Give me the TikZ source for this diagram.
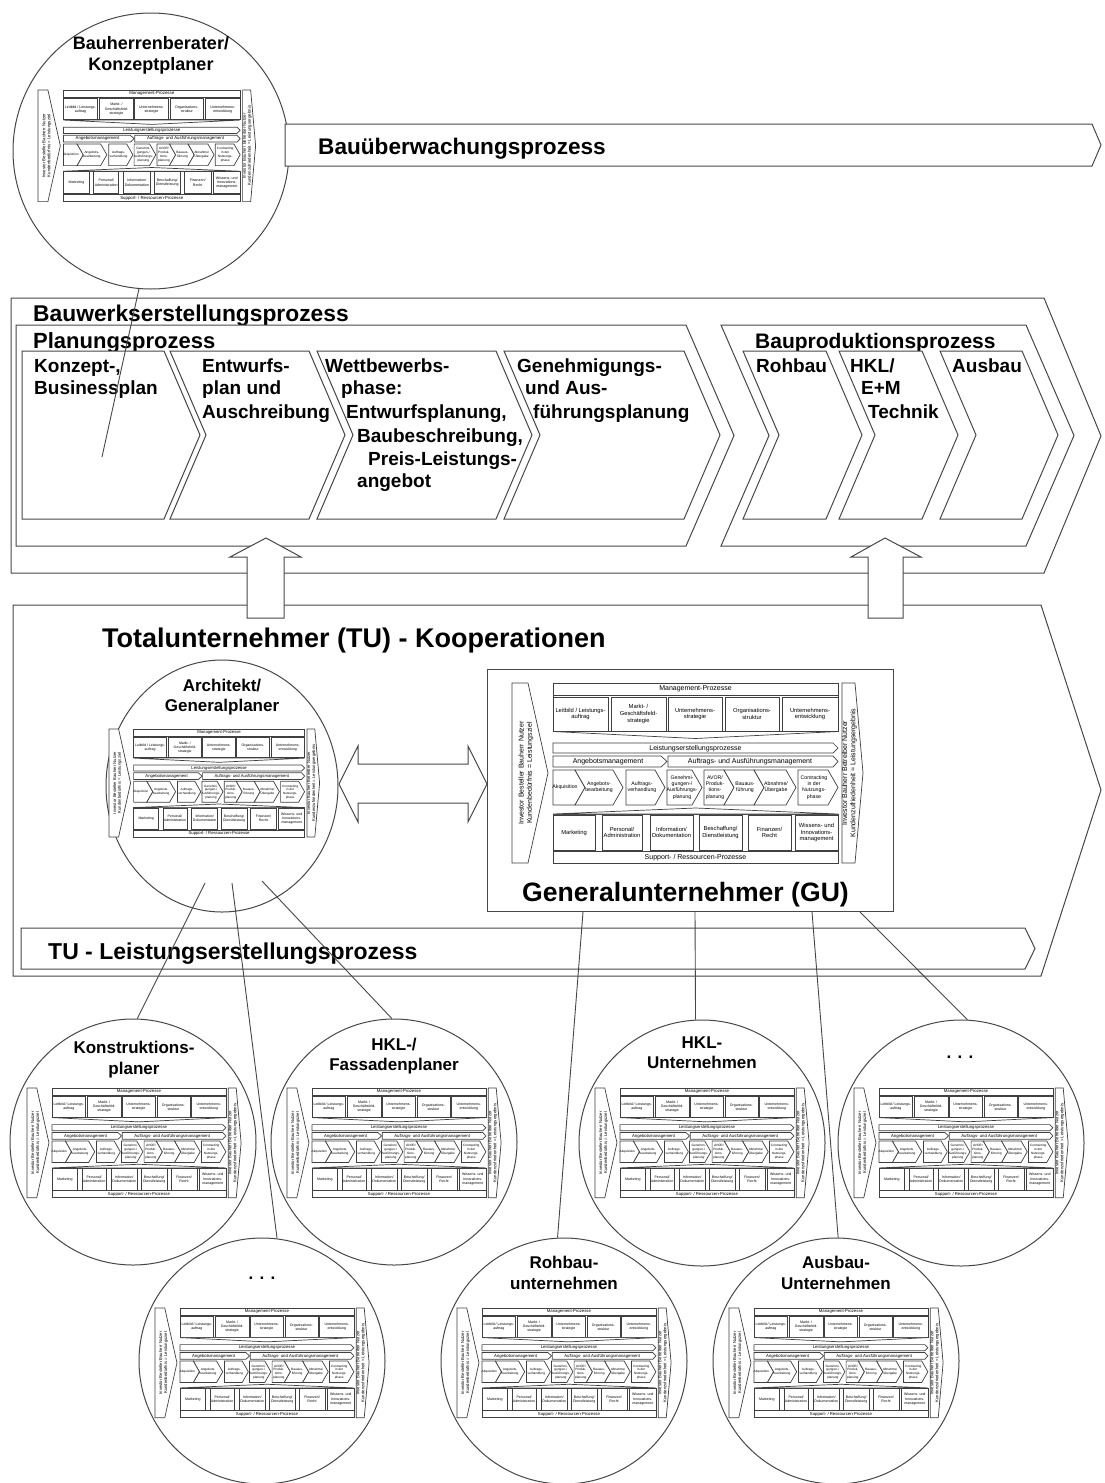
\documentclass[tikz,border=0pt]{standalone}
\usepackage{fontspec}
\setmainfont{Liberation Sans}
\usetikzlibrary{shapes.geometric}

\tikzset{
  ln/.style={draw=black!72, line width=1pt},
  shp/.style={ln, fill=white, line join=miter},
  hd/.style={font=\fontsize{22}{26}\selectfont\bfseries, anchor=base west, inner sep=0pt},
  st/.style={font=\fontsize{19}{23}\selectfont\bfseries, anchor=base west, inner sep=0pt},
  ct/.style={font=\fontsize{17}{20}\selectfont\bfseries, anchor=base, inner sep=0pt},
  orb/.style={circle, ln, fill=white, minimum size=246pt, inner sep=0pt},
  conn/.style={draw=black!72, line width=0.9pt},
  % generic process model
  mfr/.style={draw=black!75, line width=0.7pt, fill=white, line join=miter},
  mbar/.style={font=\fontsize{7}{8}\selectfont, inner sep=0pt},
  mbox/.style={font=\fontsize{5.8}{6.8}\selectfont, align=center, inner sep=0pt},
  mchev/.style={font=\fontsize{5.2}{6.1}\selectfont, align=center, inner sep=0pt},
  mrot/.style={font=\fontsize{7}{8.2}\selectfont, align=center, inner sep=0pt, rotate=90},
}

% chevron in the value chain row: #1 left, #2 right shoulder, #3 notched (1) or flat (0)
\newcommand{\mchevron}[3]{%
  \ifnum#3=1
    \draw[mfr] (#1,87) -- (#2,87) -- (#2+10,104.5) -- (#2,122) -- (#1,122) -- (#1+10,104.5) -- cycle;
  \else
    \draw[mfr] (#1,87) -- (#2,87) -- (#2+10,104.5) -- (#2,122) -- (#1,122) -- cycle;
  \fi}

% process model of a company: #1 position, #2 scale, #3 name prefix
\newcommand{\procmodel}[3]{%
\begin{scope}[shift={#1}, scale=#2, transform shape, name prefix=#3-]
  % customer side
  \draw[mfr] (0,0) -- (16,0) -- (36,90) -- (16,180) -- (0,180) -- cycle;
  \draw[mfr] (330,0) -- (343,0) -- (351,90) -- (343,180) -- (330,180) -- cycle;
  \node[mrot] (kin) at (14,90) {Investor Besteller Bauherr Nutzer\\Kundenbedürfnis = Leistungsziel};
  \node[mrot] (kout) at (337.5,90) {Investor Bauherr Betreiber Nutzer\\Kundenzufriedenheit = Leistungsergebnis};
  % management processes
  \draw[mfr] (41,0) rectangle (326,48);
  \draw[mfr] (41,0) rectangle (326,12);
  \node[mbar] (mp) at (183.5,6.3) {Management-Prozesse};
  \draw[mfr] (41,14) rectangle (96,48);
  \draw[mfr] (99,14) rectangle (154,48);
  \draw[mfr] (156,14) rectangle (210,48);
  \draw[mfr] (213,14) rectangle (267,48);
  \draw[mfr] (270,14) rectangle (326,48);
  \node[mbox] (m1) at (68.5,31) {Leitbild / Leistungs-\\auftrag};
  \node[mbox] (m2) at (126.5,31) {Markt- /\\Geschäftsfeld-\\strategie};
  \node[mbox] (m3) at (183,31) {Unternehmens-\\strategie};
  \node[mbox] (m4) at (240,31) {Organisations-\\struktur};
  \node[mbox] (m5) at (298,31) {Unternehmens-\\entwicklung};
  \draw[mfr] (41,48.5) -- (183.5,55.5) -- (326,48.5) -- cycle;
  % value chain
  \draw[mfr] (41,60) -- (321,60) -- (326,65) -- (321,70) -- (41,70) -- cycle;
  \node[mbar] (lp) at (183.5,65.3) {Leistungserstellungsprozesse};
  \draw[mfr] (41,73) -- (149,73) -- (155,78.5) -- (149,84) -- (41,84) -- cycle;
  \draw[mfr] (156,73) -- (321,73) -- (326,78.5) -- (321,84) -- (156,84) -- cycle;
  \node[mbar] (am) at (96,78.8) {Angebotsmanagement};
  \node[mbar] (aa) at (238,78.8) {Auftrags- und Ausführungsmanagement};
  \mchevron{41}{63}{0}
  \mchevron{63}{101}{1}
  \mchevron{114}{143}{0}
  \mchevron{155}{180}{0}
  \mchevron{192}{212}{0}
  \mchevron{212}{242}{1}
  \mchevron{242}{274}{1}
  \mchevron{286}{316}{0}
  \node[mchev] (c1) at (53,104.5) {Akquisition};
  \node[mchev] (c2) at (87,104.5) {Angebots-\\bearbeitung};
  \node[mchev] (c3) at (130,104.5) {Auftrags-\\verhandlung};
  \node[mchev] (c4) at (170,104.5) {Genehmi-\\gungen-/\\Ausführungs-\\planung};
  \node[mchev] (c5) at (203,104.5) {AVOR/\\Produk-\\tions-\\planung};
  \node[mchev] (c6) at (233,104.5) {Bauaus-\\führung};
  \node[mchev] (c7) at (264,104.5) {Abnahme/\\Übergabe};
  \node[mchev] (c8) at (302,104.5) {Contracting\\in der\\Nutzungs-\\phase};
  % support processes
  \draw[mfr] (41,131) rectangle (326,180);
  \draw[mfr] (41,131) -- (183.5,125) -- (326,131) -- cycle;
  \draw[mfr] (41,132) rectangle (83,167);
  \draw[mfr] (90,132) rectangle (130,167);
  \draw[mfr] (138,132) rectangle (181,167);
  \draw[mfr] (187,132) rectangle (230,167);
  \draw[mfr] (236,132) rectangle (279,167);
  \draw[mfr] (283,132) rectangle (326,167);
  \node[mbox] (s1) at (62,149.5) {Marketing};
  \node[mbox] (s2) at (110,149.5) {Personal/\\Administration};
  \node[mbox] (s3) at (159.5,149.5) {Information/\\Dokumentation};
  \node[mbox] (s4) at (208.5,149.5) {Beschaffung/\\Dienstleistung};
  \node[mbox] (s5) at (257.5,149.5) {Finanzen/\\Recht};
  \node[mbox] (s6) at (304.5,149.5) {Wissens- und\\Innovations-\\management};
  \draw[mfr] (41,168.5) rectangle (326,180);
  \node[mbar] (sp) at (183.5,174.5) {Support- / Ressourcen-Prozesse};
\end{scope}}

\begin{document}
\begin{tikzpicture}[x=1pt, y=-1pt]
\useasboundingbox (0,0) rectangle (1104,1483);

% ---------- Bauwerkserstellungsprozess ----------
\draw[shp] (11,298) -- (1044,298) -- (1101,436) -- (1044,573) -- (11,573) -- cycle;
\node[hd, font=\fontsize{22.8}{26}\selectfont\bfseries] (bwe) at (33,321) {Bauwerkserstellungsprozess};
\draw[shp] (16,325) -- (686,325) -- (734,435.5) -- (686,546) -- (16,546) -- cycle;
\node[hd] (plp) at (33,348) {Planungsprozess};
\draw[shp] (22,351) -- (164,351) -- (200,435) -- (164,519) -- (22,519) -- cycle;
\draw[shp] (170,351) -- (309,351) -- (345,435) -- (309,519) -- (170,519) -- (206,435) -- cycle;
\draw[shp] (317,351) -- (496,351) -- (532,435) -- (496,519) -- (317,519) -- (353,435) -- cycle;
\draw[shp] (504,351) -- (684,351) -- (720,435) -- (684,519) -- (504,519) -- (540,435) -- cycle;
\node[st] (k1) at (34,372) {Konzept-,};
\node[st] (k2) at (34,394) {Businessplan};
\node[st] (e1) at (202,372) {Entwurfs-};
\node[st] (e2) at (202,394) {plan und};
\node[st] (e3) at (202,418) {Auschreibung};
\node[st] (w1) at (325,372) {Wettbewerbs-};
\node[st] (w2) at (341,394) {phase:};
\node[st] (w3) at (346,418) {Entwurfsplanung,};
\node[st] (w4) at (357,442) {Baubeschreibung,};
\node[st] (w5) at (368,465) {Preis-Leistungs-};
\node[st] (w6) at (357,487) {angebot};
\node[st] (g1) at (517,372) {Genehmigungs-};
\node[st] (g2) at (525,394) {und Aus-};
\node[st] (g3) at (533,418) {führungsplanung};

\draw[shp] (721,325) -- (1026,325) -- (1074,435.5) -- (1026,546) -- (721,546) -- (769,435.5) -- cycle;
\node[hd, font=\fontsize{21}{25}\selectfont\bfseries] (bpp) at (755,348) {Bauproduktionsprozess};
\draw[shp] (743,351) -- (826,351) -- (862,435) -- (826,519) -- (743,519) -- (779,435) -- cycle;
\draw[shp] (839,351) -- (922,351) -- (958,435) -- (922,519) -- (839,519) -- (875,435) -- cycle;
\draw[shp] (940,351) -- (1022,351) -- (1058,435) -- (1022,519) -- (940,519) -- (976,435) -- cycle;
\node[st] (rb) at (756,372) {Rohbau};
\node[st] (h1) at (850,372) {HKL/};
\node[st] (h2) at (861,394) {E+M};
\node[st] (h3) at (868,418) {Technik};
\node[st] (ab) at (952,372) {Ausbau};

% ---------- Totalunternehmer ----------
\draw[shp] (13,605) -- (1041,605) -- (1101,790) -- (1041,976) -- (13,976) -- cycle;
\node[hd, font=\fontsize{27}{31}\selectfont\bfseries] (tu) at (102,647) {Totalunternehmer (TU) - Kooperationen};

% upward block arrows
\draw[shp] (266,538) -- (301,557) -- (284,557) -- (284,618) -- (247,618) -- (247,557) -- (230,557) -- cycle;
\draw[shp] (885,538) -- (921,557) -- (903,557) -- (903,618) -- (868,618) -- (868,557) -- (851,557) -- cycle;

% architect / general planner
\node[ellipse, ln, fill=white, minimum width=232pt, minimum height=252pt, inner sep=0pt] (arch) at (222,786) {};
\node[ct] (arch1) at (222,691) {Architekt/};
\node[ct] (arch2) at (222,711) {Generalplaner};
\procmodel{(109,729)}{0.6}{am}

% double arrow
\draw[shp] (339,784) -- (358,746) -- (358,764) -- (468,764) -- (468,746) -- (487,784)
  -- (468,822) -- (468,803) -- (358,803) -- (358,822) -- cycle;

% general contractor
\node[ln, fill=white, minimum width=406pt, minimum height=242pt, anchor=north west, inner sep=0pt] (gu) at (487,669) {};
\procmodel{(512,683)}{1}{gm}
\node[hd, font=\fontsize{26.6}{30}\selectfont\bfseries] (gut) at (522,901) {Generalunternehmer (GU)};

% TU value chain
\draw[shp] (21,928) -- (1025,928) -- (1035,948.5) -- (1025,969) -- (21,969) -- cycle;
\node[hd, font=\fontsize{23}{27}\selectfont\bfseries] (tul) at (48,959) {TU - Leistungserstellungsprozess};

% ---------- client advisor ----------
\node[circle, ln, fill=white, minimum size=276pt, inner sep=0pt] (bhb) at (151,151) {};
\node[ct, font=\fontsize{18}{21}\selectfont\bfseries] (bhb1) at (151,49) {Bauherrenberater/};
\node[ct, font=\fontsize{18}{21}\selectfont\bfseries] (bhb2) at (151,70) {Konzeptplaner};
\procmodel{(38,90)}{0.62}{bm}
\draw[shp] (285,124) -- (1092,124) -- (1101,145) -- (1092,166) -- (285,166) -- cycle;
\node[hd, font=\fontsize{22.6}{26}\selectfont\bfseries] (buw) at (318,154) {Bauüberwachungsprozess};

% ---------- partner companies ----------
\node[orb] (konstr) at (133,1142) {};
\node[ct] (konstr1) at (134,1053) {Konstruktions-};
\node[ct] (konstr2) at (134,1074) {planer};
\procmodel{(27,1088)}{0.61}{km}

\node[orb] (hklf) at (394,1142) {};
\node[ct] (hklf1) at (394,1050) {HKL-/};
\node[ct] (hklf2) at (394,1070) {Fassadenplaner};
\procmodel{(287,1088)}{0.61}{fm}

\node[orb] (hklu) at (702,1143) {};
\node[ct] (hklu1) at (702,1048) {HKL-};
\node[ct] (hklu2) at (702,1068) {Unternehmen};
\procmodel{(595,1088)}{0.61}{um}

\node[orb] (etcA) at (961,1143) {};
\node[ct] (etcA1) at (960,1058) {. . .};
\procmodel{(854,1088)}{0.61}{em}

\node[orb] (etcB) at (262,1361) {};
\node[ct] (etcB1) at (262,1279) {. . .};
\procmodel{(155,1308)}{0.61}{dm}

\node[orb] (rohb) at (564,1361) {};
\node[ct] (rohb1) at (564,1268) {Rohbau-};
\node[ct] (rohb2) at (564,1289) {unternehmen};
\procmodel{(457,1308)}{0.61}{rm}

\node[orb] (ausb) at (836,1361) {};
\node[ct] (ausb1) at (836,1268) {Ausbau-};
\node[ct] (ausb2) at (836,1289) {Unternehmen};
\procmodel{(729,1308)}{0.61}{xm}

% ---------- connectors ----------
\coordinate (bhbend) at (102,457);
\coordinate (archL) at (205,883);
\coordinate (archM) at (232,883);
\coordinate (archR) at (262,881);
\draw[conn] (bhb.265) -- (bhbend);
\draw[conn] (archL) -- (konstr.88);
\draw[conn] (archM) -- (etcB.83);
\draw[conn] (archR) -- (hklf.91);
\draw[conn] ([xshift=96pt]gu.south west) -- (rohb.93);
\draw[conn] ([xshift=208pt]gu.south west) -- (hklu.93);
\draw[conn] ([xshift=325pt]gu.south west) -- (ausb.89);
\draw[conn] ([xshift=373pt]gu.south west) -- (etcA.87);
\end{tikzpicture}
\end{document}
